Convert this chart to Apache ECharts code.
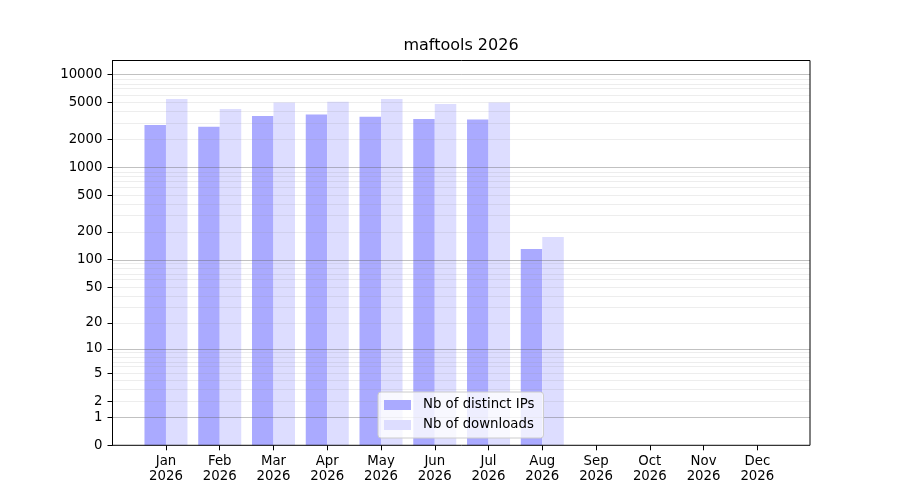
<!DOCTYPE html>
<html>
<head>
<meta charset="utf-8">
<script src="https://cdn.jsdelivr.net/npm/echarts@6/dist/echarts.min.js"></script>
<style>html,body{margin:0;padding:0;background:#fff}#c{width:900px;height:500px}</style>
</head>
<body>
<div id="c"></div>
<script>
var months = ['Jan','Feb','Mar','Apr','May','Jun','Jul','Aug','Sep','Oct','Nov','Dec'];
var year = '2026';
var distinctIPs = [2860, 2730, 3580, 3700, 3500, 3320, 3270, 130, null, null, null, null];
var downloads   = [5470, 4260, 4990, 5110, 5470, 4830, 4990, 176, null, null, null, null];
var yTickLabels = [0, 1, 2, 5, 10, 20, 50, 100, 200, 500, 1000, 2000, 5000, 10000];
var majorGrid = [1, 10, 100, 1000, 10000];
var minorGrid = [2,3,4,5,6,7,8,9, 20,30,40,50,60,70,80,90, 200,300,400,500,600,700,800,900, 2000,3000,4000,5000,6000,7000,8000,9000];
var yMaxRaw = 14200;

function tf(v){ return v == null ? null : Math.log10(1 + v); }
var yMax = tf(yMaxRaw);
var font = 'DejaVu Sans';
var categories = months.map(function(m){ return m + '\n' + year; });

var chart = echarts.init(document.getElementById('c'), null, {renderer: 'canvas'});
chart.setOption({
  animation: false,
  textStyle: {fontFamily: font},
  title: {
    text: 'maftools ' + year,
    left: 461, top: 38, textAlign: 'center', padding: 0,
    textStyle: {fontFamily: font, fontSize: 16, fontWeight: 'normal', color: '#000'}
  },
  legend: {
    orient: 'vertical',
    left: 378, top: 392,
    padding: [5, 9, 5, 6],
    itemWidth: 27, itemHeight: 10, itemGap: 4,
    icon: 'rect',
    backgroundColor: 'rgba(255,255,255,0.8)',
    borderColor: '#cccccc', borderWidth: 1, borderRadius: 3,
    textStyle: {fontFamily: font, fontSize: 13.3, color: '#000', lineHeight: 16, padding: [0, 0, 0, 7]},
    data: ['Nb of distinct IPs', 'Nb of downloads'],
    z: 20
  },
  grid: [
    {left: 112.5, right: 90, top: 60.5, bottom: 54.7, show: true, borderColor: '#000', borderWidth: 1, backgroundColor: 'transparent', z: 10},
    {left: 139.1, right: 115.8, top: 60.5, bottom: 54.7}
  ],
  xAxis: [
    {type: 'value', gridIndex: 0, min: 0, max: 1, show: false},
    {type: 'category', gridIndex: 1, data: categories, boundaryGap: true,
      axisLine: {show: false},
      axisTick: {show: true, alignWithLabel: true, length: 5, lineStyle: {color: '#000'}},
      axisLabel: {fontFamily: font, fontSize: 13.3, color: '#000', lineHeight: 15, margin: 9, interval: 0}
    }
  ],
  yAxis: [
    {type: 'value', gridIndex: 0, min: 0, max: yMax,
      splitLine: {show: false},
      axisLine: {show: true, lineStyle: {color: '#000'}},
      axisTick: {show: true, length: 5, lineStyle: {color: '#000'}, customValues: yTickLabels.map(tf)},
      axisLabel: {fontFamily: font, fontSize: 13.3, color: '#000', margin: 10,
        customValues: yTickLabels.map(tf),
        formatter: function(v){ return String(Math.round(Math.pow(10, v) - 1)); }
      }
    },
    {type: 'value', gridIndex: 1, min: 0, max: yMax, show: false}
  ],
  series: [
    {name: 'Nb of distinct IPs', type: 'bar', xAxisIndex: 1, yAxisIndex: 1,
      data: distinctIPs.map(tf), barWidth: '40%', barGap: '0%',
      itemStyle: {color: '#aaaaff'}, z: 2},
    {name: 'Nb of downloads', type: 'bar', xAxisIndex: 1, yAxisIndex: 1,
      data: downloads.map(tf), barWidth: '40%', barGap: '0%',
      itemStyle: {color: '#ddddff'}, z: 2},
    {type: 'line', xAxisIndex: 0, yAxisIndex: 0, data: [[0, 0]], symbol: 'none', showSymbol: false,
      lineStyle: {opacity: 0}, silent: true, z: 5,
      markLine: {
        silent: true, symbol: ['none', 'none'], label: {show: false}, animation: false,
        data: majorGrid.map(function(v){ return {yAxis: tf(v), lineStyle: {color: 'rgba(100,100,100,0.4)', width: 1, type: 'solid'}}; })
          .concat(minorGrid.map(function(v){ return {yAxis: tf(v), lineStyle: {color: 'rgba(150,150,150,0.17)', width: 1, type: 'solid'}}; }))
      }
    }
  ]
});
</script>
</body>
</html>
